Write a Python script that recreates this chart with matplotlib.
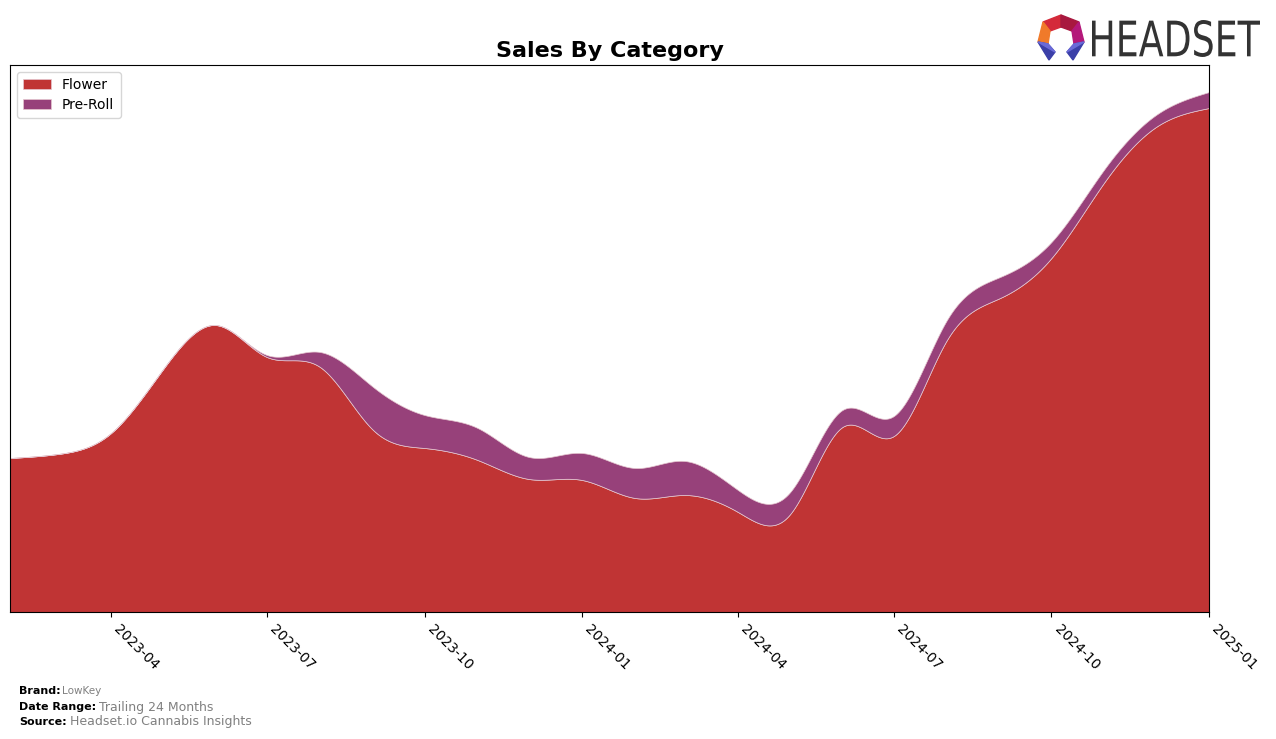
import matplotlib
matplotlib.use("Agg")
import matplotlib.pyplot as plt
import matplotlib.dates as mdates
from matplotlib.patches import Polygon, PathPatch
from matplotlib.textpath import TextPath
from matplotlib.font_manager import FontProperties
from matplotlib.transforms import Affine2D
import numpy as np
import pandas as pd

# monthly sales (arbitrary units)
months = pd.date_range("2023-02-01", "2025-01-01", freq="MS")
flower = [154, 158, 179, 242, 287, 255, 245, 182, 164, 152, 133, 132,
          114, 117, 100, 97, 185, 176, 272, 314, 354, 430, 485, 504]
preroll = [0, 0, 0, 0, 0, 2, 15, 43, 33, 32, 22, 27,
           30, 34, 22, 22, 17, 20, 20, 21, 16, 13, 12, 16]
tick_dates = pd.date_range("2023-04-01", "2025-01-01", freq="3MS")

flower_color = "#c03434"
preroll_color = "#97417a"


def natural_spline(x, y, xs):
    x = np.asarray(x, float)
    y = np.asarray(y, float)
    n = len(x)
    h = np.diff(x)
    A = np.zeros((n, n))
    b = np.zeros(n)
    A[0, 0] = A[-1, -1] = 1
    for i in range(1, n - 1):
        A[i, i - 1] = h[i - 1]
        A[i, i] = 2 * (h[i - 1] + h[i])
        A[i, i + 1] = h[i]
        b[i] = 6 * ((y[i + 1] - y[i]) / h[i] - (y[i] - y[i - 1]) / h[i - 1])
    M = np.linalg.solve(A, b)
    idx = np.clip(np.searchsorted(x, xs) - 1, 0, n - 2)
    x0, x1 = x[idx], x[idx + 1]
    hh = x1 - x0
    t0 = x1 - xs
    t1 = xs - x0
    return (M[idx] * t0 ** 3 / (6 * hh) + M[idx + 1] * t1 ** 3 / (6 * hh)
            + (y[idx] / hh - M[idx] * hh / 6) * t0
            + (y[idx + 1] / hh - M[idx + 1] * hh / 6) * t1)


xn = mdates.date2num(months)
xs = np.linspace(xn[0], xn[-1], 1500)
f_s = np.clip(natural_spline(xn, flower, xs), 0, None)
p_s = np.clip(natural_spline(xn, preroll, xs), 0, None)

fig = plt.figure(figsize=(12.76, 7.39), dpi=100)
ax = fig.add_axes([10 / 1276, 1 - 612 / 739, 1199 / 1276, 547 / 739])

ax.fill_between(xs, 0, f_s, color=flower_color, label="Flower",
                edgecolor="#e6c8d0", linewidth=0.5)
ax.fill_between(xs, f_s, f_s + p_s, color=preroll_color, label="Pre-Roll",
                edgecolor="#e6c8d0", linewidth=0.5)

ax.set_xlim(xn[0], xn[-1])
ax.set_ylim(0, max(np.array(flower) + np.array(preroll)) * 1.052)
ax.set_yticks([])
ax.set_xticks(mdates.date2num(tick_dates))
ax.set_xticklabels([d.strftime("%Y-%m") for d in tick_dates],
                   rotation=-45, ha="left", fontsize=10)
ax.set_title("Sales By Category", fontsize=16, fontweight="bold", pad=6)
ax.legend(loc="upper left", fontsize=10, handlelength=2, borderpad=0.45,
          labelspacing=0.4)

# footer
fig.text(19 / 1276, 1 - 691 / 739, "Brand:", fontsize=8, fontweight="bold", va="center")
fig.text(62 / 1276, 1 - 691 / 739, "LowKey", fontsize=7.5, color="gray", va="center")
fig.text(19 / 1276, 1 - 707 / 739, "Date Range:", fontsize=8, fontweight="bold", va="center")
fig.text(99 / 1276, 1 - 707 / 739, "Trailing 24 Months", fontsize=9, color="gray", va="center")
fig.text(19 / 1276, 1 - 722 / 739, "Source:", fontsize=8, fontweight="bold", va="center")
fig.text(70 / 1276, 1 - 722 / 739, "Headset.io Cannabis Insights", fontsize=9, color="gray", va="center")

# logo
pix = Affine2D().scale(1 / 1276, 1 / 739) + fig.transFigure


def px(pts):
    return [(x, 739 - y) for x, y in pts]


logo_parts = [
    ([(1043, 22), (1061, 15), (1061, 27), (1050, 31)], "#d42a3a"),
    ([(1061, 15), (1079, 22), (1072, 31), (1061, 27)], "#a8183f"),
    ([(1043, 22), (1050, 31), (1048, 44), (1038, 42)], "#f07a2a"),
    ([(1079, 22), (1084, 42), (1074, 44), (1072, 31)], "#b4187a"),
    ([(1038, 42), (1048, 44), (1055, 52), (1049, 60)], "#3b3fa8"),
    ([(1084, 42), (1074, 44), (1067, 52), (1073, 60)], "#3b3fa8"),
    ([(1038, 42), (1048, 44), (1055, 52)], "#6a6ad8"),
    ([(1084, 42), (1074, 44), (1067, 52)], "#6a6ad8"),
]
for pts, c in logo_parts:
    fig.patches.append(Polygon(px(pts), closed=True, color=c,
                               transform=pix, figure=fig))

tp = TextPath((0, 0), "HEADSET", size=1, prop=FontProperties(family="DejaVu Sans"))
ext = tp.get_extents()
logo_tr = (Affine2D().translate(-ext.x0, -ext.y0)
           .scale(168 / ext.width, 37 / ext.height)
           .translate(1092, 739 - 57) + pix)
fig.patches.append(PathPatch(tp, color="#333333", lw=0, transform=logo_tr, figure=fig))

fig.savefig("out.png", dpi=100)
